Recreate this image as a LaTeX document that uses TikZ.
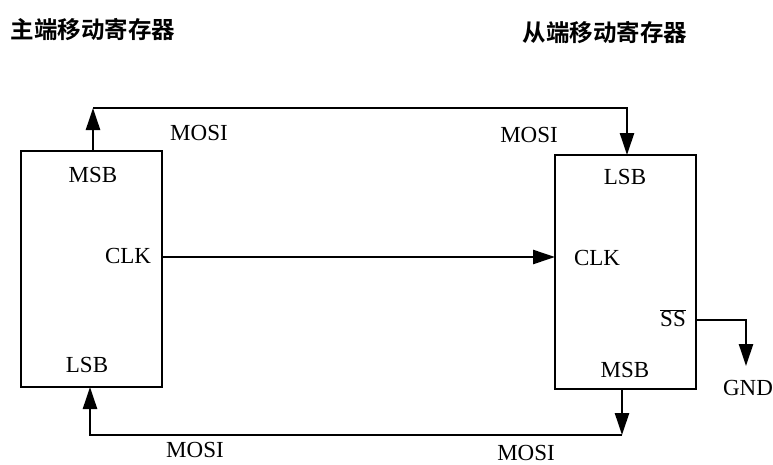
\documentclass[tikz,border=0pt]{standalone}
\usepackage{fontspec}
\setmainfont{Liberation Serif}
\newfontfamily\cjk{Noto Sans CJK SC Bold}
\usetikzlibrary{arrows.meta}
\tikzset{
  box/.style={draw, line width=2.5pt, inner sep=0pt},
  wire/.style={line width=2.5pt},
  arr/.style={wire, -{Triangle[length=22pt,width=14pt]}},
  lbl/.style={font=\fontsize{23}{23}\selectfont, inner sep=0pt},
  title/.style={font=\cjk\fontsize{23.5}{23.5}\selectfont, inner sep=0pt}
}
\begin{document}
\begin{tikzpicture}[x=1pt,y=-1pt]
\useasboundingbox (0,0) rectangle (773,464);
% titles
\node[title] (t1) at (93,30) {主端移动寄存器};
\node[title] (t2) at (605,33) {从端移动寄存器};
% boxes
\node[box, minimum width=141pt, minimum height=236pt] (M) at (91.5,269) {};
\node[box, minimum width=141pt, minimum height=234pt] (S) at (625.5,272) {};
% coordinates
\coordinate (mt) at (93,151);
\coordinate (c1) at (93,108);
\coordinate (c2) at (627,108);
\coordinate (st) at (627,155);
\coordinate (mclk) at (162,257);
\coordinate (sclk) at (555,257);
\coordinate (sb) at (622,389);
\coordinate (c3) at (622,435);
\coordinate (c4) at (90,435);
\coordinate (mb) at (90,387);
\coordinate (ss) at (696,320);
\coordinate (c5) at (746,320);
\coordinate (g) at (746,366);
% connectors
\draw[arr] (mt) -- (c1);
\draw[arr] (c1) -- (c2) -- (st);
\draw[arr] (mclk) -- (sclk);
\draw[arr] (sb) -- (c3);
\draw[arr] (c3) -- (c4) -- (mb);
\draw[arr] (ss) -- (c5) -- (g);
% labels
\node[lbl] (mmsb) at (93,175) {MSB};
\node[lbl] (mclkl) at (128,256) {CLK};
\node[lbl] (mlsb) at (87,365) {LSB};
\node[lbl] (mo1) at (199,133) {MOSI};
\node[lbl] (mo2) at (529,135) {MOSI};
\node[lbl] (slsb) at (625,177) {LSB};
\node[lbl] (sclkl) at (597,258) {CLK};
\node[lbl] (ssl) at (673,318) {$\overline{\mbox{SS}}$};
\node[lbl] (smsb) at (625,370) {MSB};
\node[lbl] (gnd) at (748,388) {GND};
\node[lbl] (mo3) at (195,450) {MOSI};
\node[lbl] (mo4) at (526,453) {MOSI};
\end{tikzpicture}
\end{document}
